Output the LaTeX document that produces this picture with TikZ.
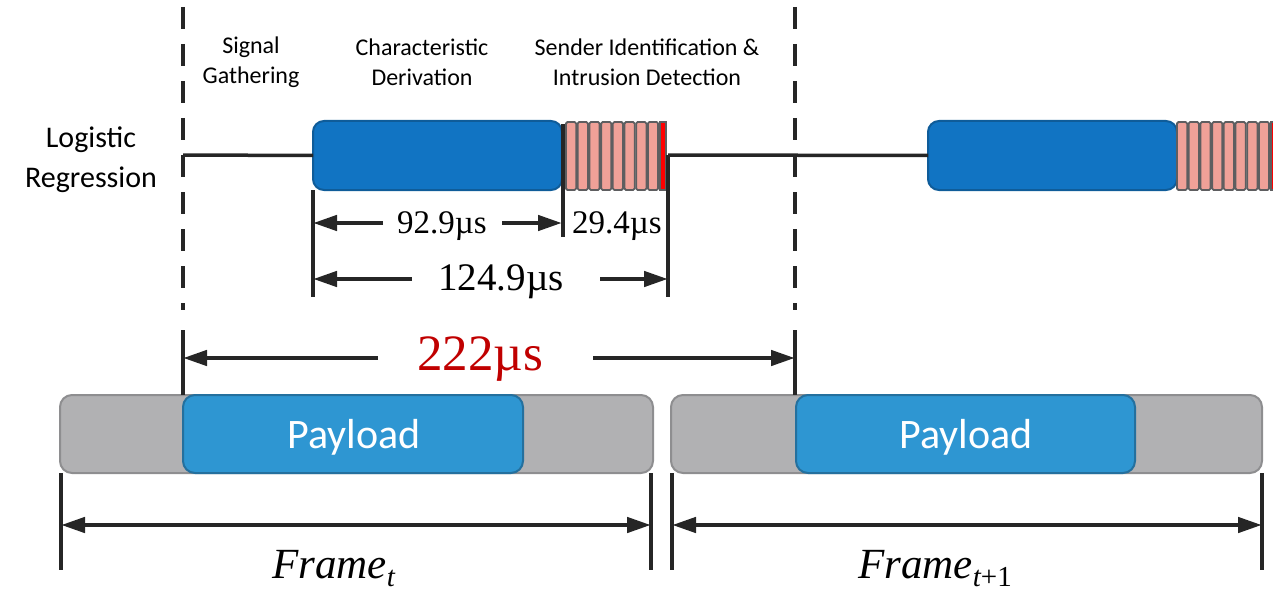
\documentclass[tikz,border=0pt]{standalone}
\usepackage{fontspec}
\setmainfont{Liberation Serif}
\newfontfamily\calfont{Carlito}
\usetikzlibrary{arrows.meta}
\definecolor{ln}{HTML}{262626}
\definecolor{barblue}{HTML}{1174C3}
\definecolor{barblueb}{HTML}{0F5C99}
\definecolor{stripefill}{HTML}{F0A198}
\definecolor{stripeb}{HTML}{5E5E60}
\definecolor{payblue}{HTML}{2E96D2}
\definecolor{paybord}{HTML}{24709E}
\definecolor{fgray}{HTML}{B1B1B3}
\definecolor{fgrayb}{HTML}{8E8E90}
\definecolor{darkred}{HTML}{C00000}
\tikzset{
  framebox/.style={draw=fgrayb, fill=fgray, line width=2pt, rounded corners=12pt, inner sep=0pt, outer sep=0pt, minimum height=78pt},
  paybox/.style={draw=paybord, fill=payblue, line width=2pt, rounded corners=12pt, inner sep=0pt, outer sep=0pt, minimum height=78pt},
  paytext/.style={text=white, inner sep=0pt, font=\calfont\fontsize{42}{42}\selectfont},
  barbox/.style={draw=barblueb, fill=barblue, line width=2pt, rounded corners=11pt, inner sep=0pt, outer sep=0pt, minimum height=69pt, minimum width=249pt},
  stripe/.style={draw=stripeb, fill=stripefill, line width=1.8pt, rounded corners=1.5pt},
  redstripe/.style={draw=stripeb, fill=red, line width=1.8pt},
  vline/.style={draw=ln, line width=4.2pt},
  dline/.style={draw=ln, line width=4.6pt, dash pattern=on 22pt off 15pt},
  baseln/.style={draw=ln, line width=3.5pt},
  dim/.style={draw=ln, line width=4.5pt, -{Triangle[length=24pt,width=15pt]}},
  dimboth/.style={draw=ln, line width=4.5pt, {Triangle[length=24pt,width=15pt]}-{Triangle[length=24pt,width=15pt]}},
  toplabel/.style={align=center, font=\calfont\fontsize{24}{30}\selectfont, inner sep=0pt},
  numlabel/.style={anchor=base, inner sep=0pt, text=black},
}
\begin{document}
\begin{tikzpicture}[x=1pt,y=-1pt]
\useasboundingbox (0,0) rectangle (1273,591);

% frames
\node[framebox, minimum width=593pt] (f1) at (356.5,434) {};
\node[paybox, minimum width=340pt] (p1) at (353,434) {};
\node[paytext] (p1t) at (354,437) {Payload};
\node[framebox, minimum width=591pt] (f2) at (966.5,434) {};
\node[paybox, minimum width=339pt] (p2) at (965.5,434) {};
\node[paytext] (p2t) at (966,437) {Payload};

% top bars
\node[barbox] (b1) at (437.5,155.5) {};
\node[barbox] (b2) at (1052.5,155.5) {};
\foreach \i in {0,...,7} {
  \draw[stripe] (566+\i*11.7,122) rectangle (566+\i*11.7+10.2,190);
  \draw[stripe] (1177+\i*11.7,122) rectangle (1177+\i*11.7+10.2,190);
}
\draw[redstripe] (659.8,122) rectangle (666,190);
\draw[redstripe] (1270.6,122) rectangle (1276,190);

% coordinates
\coordinate (dA1) at (183,7);
\coordinate (dA2) at (183,310);
\coordinate (sA1) at (183,330);
\coordinate (dB1) at (795,7);
\coordinate (dB2) at (795,310);
\coordinate (sB1) at (795,330);
\coordinate (bl0) at (183,155);
\coordinate (br0) at (668,155);
\coordinate (v1b) at (313,297);
\coordinate (v2t) at (563,124);
\coordinate (v2b) at (563,237);
\coordinate (v3b) at (668,297);

% dashed boundaries
\draw[dline] (dA1) -- (dA2);
\draw[dline] (dB1) -- (dB2);
\draw[vline] (sA1) -- (183,395);
\draw[vline] (sB1) -- (795,395);

% baseline
\draw[baseln] (bl0) -- (b1.west);
\draw[baseln] (br0) -- (b2.west);

% vertical ticks
\draw[vline] (b1.south west) -- (v1b);
\draw[vline] (v2t) -- (v2b);
\draw[vline] (br0) -- (v3b);

% 92.9
\coordinate (a1l) at (383,223); \coordinate (a1lt) at (313,223);
\coordinate (a1r) at (502,223); \coordinate (a1rt) at (562,223);
\draw[dim] (a1l) -- (a1lt);
\draw[dim] (a1r) -- (a1rt);
\node[numlabel, font=\fontsize{33}{33}\selectfont] (t929) at (442,233) {92.9µs};
\node[numlabel, font=\fontsize{33}{33}\selectfont] (t294) at (617,233) {29.4µs};

% 124.9
\coordinate (a2l) at (412,279); \coordinate (a2lt) at (313,279);
\coordinate (a2r) at (600,279); \coordinate (a2rt) at (668,279);
\draw[dim] (a2l) -- (a2lt);
\draw[dim] (a2r) -- (a2rt);
\node[numlabel, font=\fontsize{39}{39}\selectfont] (t1249) at (501,290) {124.9µs};

% 222
\coordinate (a3l) at (378,358); \coordinate (a3lt) at (183,358);
\coordinate (a3r) at (593,358); \coordinate (a3rt) at (795,358);
\draw[dim] (a3l) -- (a3lt);
\draw[dim] (a3r) -- (a3rt);
\node[numlabel, text=darkred, font=\fontsize{51}{51}\selectfont] (t222) at (480,370) {222µs};

% frame dimension
\coordinate (fa1) at (61,473); \coordinate (fa2) at (61,570);
\coordinate (fb1) at (651,473); \coordinate (fb2) at (651,570);
\coordinate (fc1) at (672,473); \coordinate (fc2) at (672,570);
\coordinate (fd1) at (1262,473); \coordinate (fd2) at (1262,570);
\draw[vline] (fa1) -- (fa2);
\draw[vline] (fb1) -- (fb2);
\draw[vline] (fc1) -- (fc2);
\draw[vline] (fd1) -- (fd2);
\coordinate (fx1) at (61,525); \coordinate (fx2) at (651,525);
\coordinate (fx3) at (672,525); \coordinate (fx4) at (1262,525);
\draw[dimboth] (fx1) -- (fx2);
\draw[dimboth] (fx3) -- (fx4);
\node[anchor=base west, inner sep=0pt, font=\fontsize{43}{43}\selectfont] (ft) at (272,578) {\itshape Frame\raisebox{-8pt}{\fontsize{29}{29}\selectfont t}};
\node[anchor=base west, inner sep=0pt, font=\fontsize{43}{43}\selectfont] (ft1) at (858,578) {\itshape Frame\raisebox{-8pt}{\fontsize{29}{29}\selectfont t\upshape +1}};

% labels
\node[align=center, font=\calfont\fontsize{30}{40}\selectfont, inner sep=0pt] (lr) at (91,160) {Logistic\\Regression};
\node[toplabel] (sg) at (251,62) {Signal\\Gathering};
\node[toplabel] (cd) at (422,62) {Characteristic\\Derivation};
\node[toplabel] (si) at (647,62) {Sender Identification \&\\Intrusion Detection};
\end{tikzpicture}
\end{document}
